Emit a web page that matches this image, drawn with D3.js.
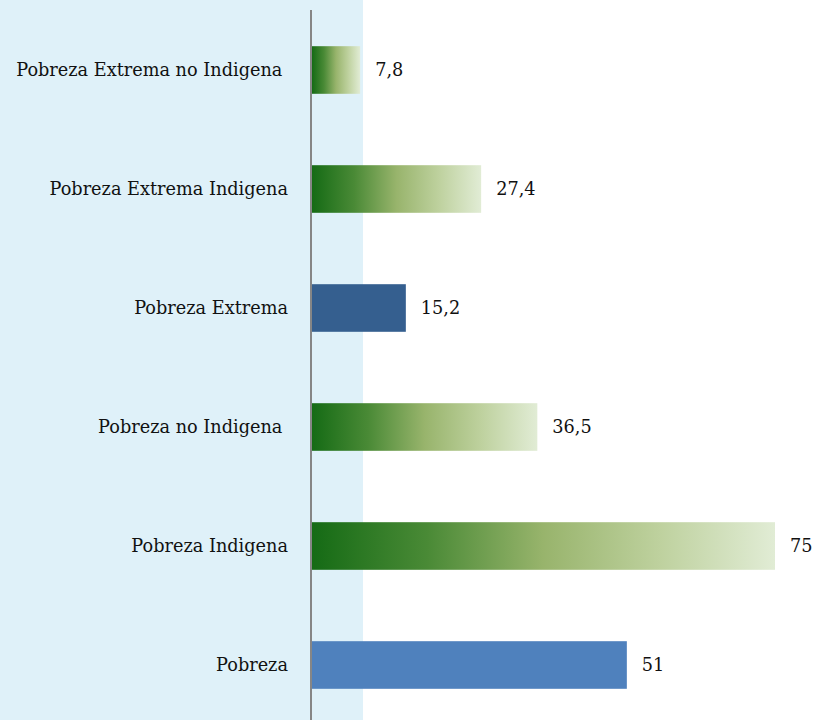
<!DOCTYPE html>
<html>
<head>
    <meta charset='utf-8' />
    <title>Pobreza</title>
    <script src="https://cdn.jsdelivr.net/npm/d3@7"></script>
	<style type="text/css">
		body { margin: 0; background: #fff; }
		#chart { width: 816px; height: 720px; }
		.label, .value {
			font-family: "DejaVu Serif", serif;
			font-size: 17.7px;
			fill: #111;
			white-space: pre;
		}
	</style>
</head>
<body>
<div id="chart"></div>

<script type="text/javascript">
	var categories = [
		"Pobreza Extrema no Indigena ",
		"Pobreza Extrema Indigena",
		"Pobreza Extrema",
		"Pobreza no Indigena ",
		"Pobreza Indigena",
		"Pobreza"
	];
	var values = [7.8, 27.4, 15.2, 36.5, 75, 51];
	var valueLabels = ["7,8", "27,4", "15,2", "36,5", "75", "51"];
	var fills = ["green", "green", "#355f8f", "green", "green", "#4f81bd"];

	var width = 816, height = 720;

	var svg = d3.select("#chart").append("svg")
		.attr("width", width)
		.attr("height", height);

	// gradient used by the green bars
	var grad = svg.append("defs").append("linearGradient")
		.attr("id", "greenGrad")
		.attr("x1", "0%").attr("x2", "100%")
		.attr("y1", "0%").attr("y2", "0%");
	[[0, "#156b15"], [0.25, "#4a8a36"], [0.5, "#98b46c"], [0.75, "#bed19e"], [1, "#e1ecd5"]].forEach(function(s) {
		grad.append("stop").attr("offset", s[0]).attr("stop-color", s[1]);
	});

	var x = d3.scaleLinear().domain([0, 75]).range([312, 775]);
	var y = d3.scaleBand().domain(categories).range([10.5, 724.5])
		.paddingInner(0.6).paddingOuter(0.3);

	// light blue panel
	svg.append("rect")
		.attr("x", 0).attr("y", 0)
		.attr("width", 363).attr("height", height)
		.attr("fill", "#dff1f9");

	svg.selectAll(".bar")
		.data(categories)
	  .enter().append("rect")
		.attr("class", "bar")
		.attr("x", x(0))
		.attr("y", function(d) { return y(d); })
		.attr("height", y.bandwidth())
		.attr("width", function(d, i) { return x(values[i]) - x(0); })
		.attr("fill", function(d, i) { return fills[i] == "green" ? "url(#greenGrad)" : fills[i]; });

	// axis line
	svg.append("line")
		.attr("x1", 311).attr("x2", 311)
		.attr("y1", 10).attr("y2", height)
		.attr("stroke", "#868686")
		.attr("stroke-width", 2);

	svg.selectAll(".label")
		.data(categories)
	  .enter().append("text")
		.attr("class", "label")
		.attr("text-anchor", "end")
		.attr("x", 288)
		.attr("y", function(d) { return y(d) + y.bandwidth() / 2; })
		.attr("dy", "0.35em")
		.text(function(d) { return d; });

	svg.selectAll(".value")
		.data(categories)
	  .enter().append("text")
		.attr("class", "value")
		.attr("x", function(d, i) { return x(values[i]) + 15; })
		.attr("y", function(d) { return y(d) + y.bandwidth() / 2; })
		.attr("dy", "0.35em")
		.text(function(d, i) { return valueLabels[i]; });
</script>
</body>
</html>
